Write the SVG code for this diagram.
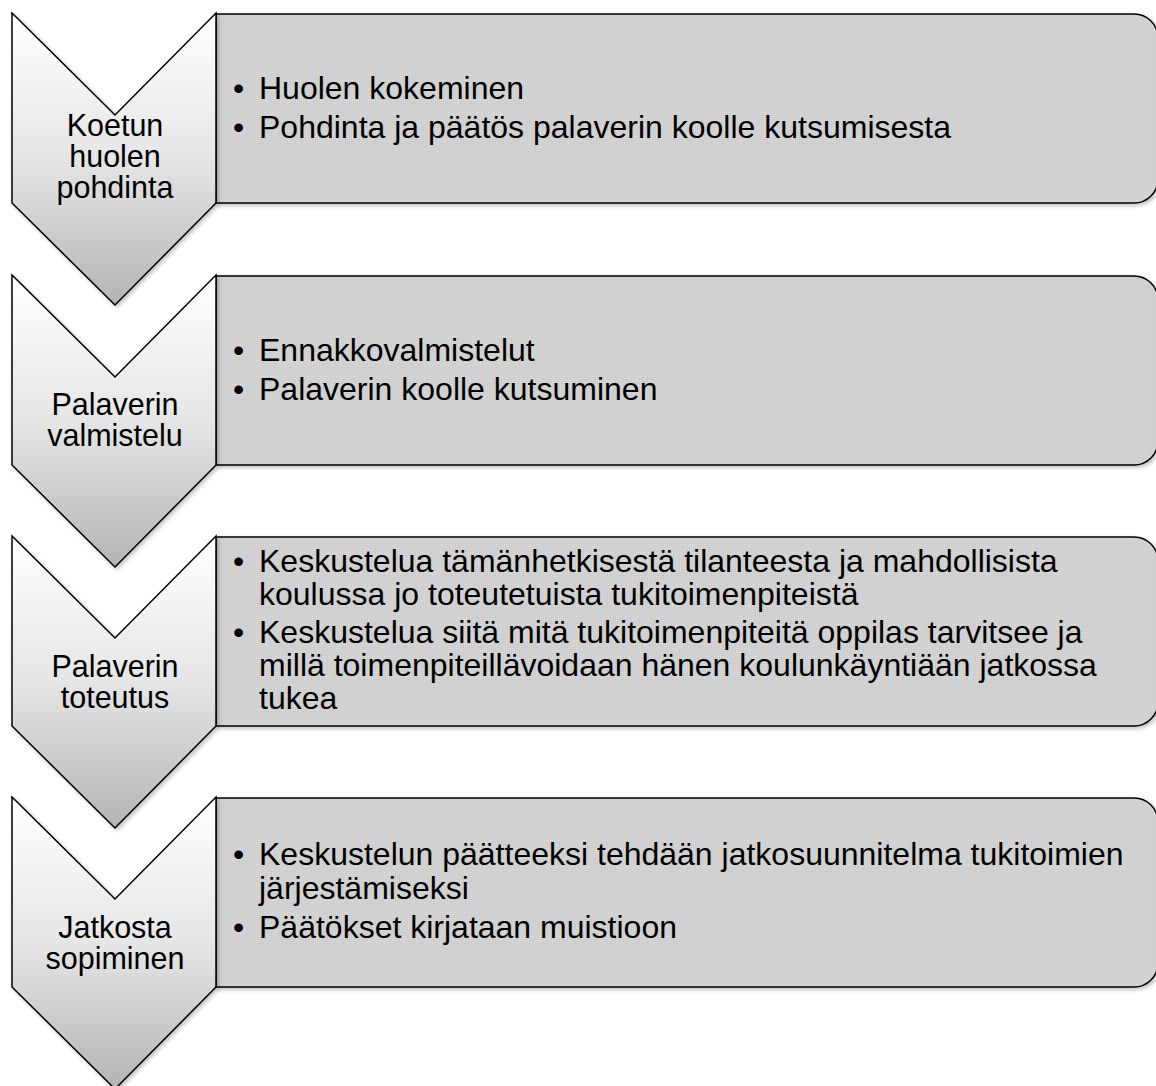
<svg xmlns="http://www.w3.org/2000/svg" width="1156" height="1086" viewBox="0 0 1156 1086">
<defs>
<linearGradient id="chev" x1="0" y1="0" x2="0" y2="1">
<stop offset="0" stop-color="#ffffff"/>
<stop offset="0.5" stop-color="#e6e6e6"/>
<stop offset="1" stop-color="#b4b4b4"/>
</linearGradient>
<pattern id="dots" width="2" height="2" patternUnits="userSpaceOnUse">
<rect width="2" height="2" fill="#cecece"/>
<rect width="1" height="1" fill="#dadada"/>
</pattern>
<filter id="sh" x="-10%" y="-10%" width="130%" height="130%">
<feGaussianBlur in="SourceAlpha" stdDeviation="2"/>
<feOffset dx="2" dy="2"/>
<feComponentTransfer><feFuncA type="linear" slope="0.25"/></feComponentTransfer>
<feMerge><feMergeNode/><feMergeNode in="SourceGraphic"/></feMerge>
</filter>
</defs>
<style>
.box{fill:url(#dots);stroke:#000;stroke-width:1.5}
.chev{fill:url(#chev);stroke:#000;stroke-width:1.5;stroke-linejoin:miter}
.lbl{font-family:"Liberation Sans",Arial,sans-serif;font-size:30.5px;fill:#000;text-anchor:middle}
.txt{font-family:"Liberation Sans",Arial,sans-serif;font-size:32px;fill:#000}
</style>

<g id="step1">
<path class="box" filter="url(#sh)" d="M216,14 H1134 A24,24 0 0 1 1158,38 V179 A24,24 0 0 1 1134,203 H216 Z"/>
<path class="chev" filter="url(#sh)" d="M12,13 L115,115 L216,13 V203 L115,305 L12,203 Z"/>
<text class="lbl"><tspan x="115" y="136">Koetun</tspan><tspan x="115" y="167">huolen</tspan><tspan x="115" y="198">pohdinta</tspan></text>
<text class="txt"><tspan x="233" y="99">•</tspan><tspan x="259" y="99">Huolen kokeminen</tspan><tspan x="233" y="138">•</tspan><tspan x="259" y="138">Pohdinta ja päätös palaverin koolle kutsumisesta</tspan></text>
</g>

<g id="step2">
<path class="box" filter="url(#sh)" d="M216,276 H1134 A24,24 0 0 1 1158,300 V441 A24,24 0 0 1 1134,465 H216 Z"/>
<path class="chev" filter="url(#sh)" d="M12,275 L115,377 L216,275 V465 L115,567 L12,465 Z"/>
<text class="lbl"><tspan x="115" y="415">Palaverin</tspan><tspan x="115" y="446">valmistelu</tspan></text>
<text class="txt"><tspan x="233" y="361">•</tspan><tspan x="259" y="361">Ennakkovalmistelut</tspan><tspan x="233" y="400">•</tspan><tspan x="259" y="400">Palaverin koolle kutsuminen</tspan></text>
</g>

<g id="step3">
<path class="box" filter="url(#sh)" d="M216,537 H1134 A24,24 0 0 1 1158,561 V702 A24,24 0 0 1 1134,726 H216 Z"/>
<path class="chev" filter="url(#sh)" d="M12,536 L115,638 L216,536 V726 L115,828 L12,726 Z"/>
<text class="lbl"><tspan x="115" y="677">Palaverin</tspan><tspan x="115" y="708">toteutus</tspan></text>
<text class="txt"><tspan x="233" y="572">•</tspan><tspan x="259" y="572">Keskustelua tämänhetkisestä tilanteesta ja mahdollisista</tspan><tspan x="259" y="605">koulussa jo toteutetuista tukitoimenpiteistä</tspan><tspan x="233" y="643">•</tspan><tspan x="259" y="643">Keskustelua siitä mitä tukitoimenpiteitä oppilas tarvitsee ja</tspan><tspan x="259" y="676">millä toimenpiteillävoidaan hänen koulunkäyntiään jatkossa</tspan><tspan x="259" y="709">tukea</tspan></text>
</g>

<g id="step4">
<path class="box" filter="url(#sh)" d="M216,798 H1134 A24,24 0 0 1 1158,822 V963 A24,24 0 0 1 1134,987 H216 Z"/>
<path class="chev" filter="url(#sh)" d="M12,797 L115,899 L216,797 V987 L115,1089 L12,987 Z"/>
<text class="lbl"><tspan x="115" y="938">Jatkosta</tspan><tspan x="115" y="969">sopiminen</tspan></text>
<text class="txt"><tspan x="233" y="865">•</tspan><tspan x="259" y="865">Keskustelun päätteeksi tehdään jatkosuunnitelma tukitoimien</tspan><tspan x="259" y="899">järjestämiseksi</tspan><tspan x="233" y="938">•</tspan><tspan x="259" y="938">Päätökset kirjataan muistioon</tspan></text>
</g>

<g id="connectors"/>
</svg>
